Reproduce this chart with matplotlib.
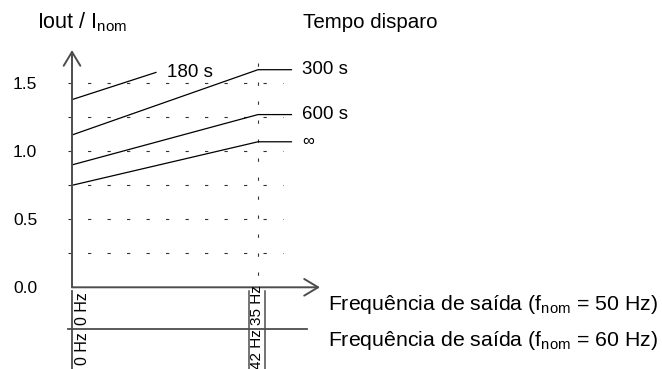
import matplotlib
matplotlib.use("Agg")
import matplotlib.pyplot as plt

plt.rcParams.update({
    "font.family": ["Liberation Sans", "DejaVu Sans"],
    "mathtext.fontset": "custom",
    "mathtext.rm": "Liberation Sans",
    "mathtext.it": "Liberation Sans:italic",
    "lines.scale_dashes": False,
})

# curves: trip time vs output frequency (x in Hz for f_nom = 50 Hz)
curve_labels = ["180 s", "300 s", "600 s", "\u221e"]
curve_x = [[0, 15.8], [0, 35, 41.3], [0, 35, 41.3], [0, 35, 41.3]]
curve_y = [[1.38, 1.58], [1.12, 1.60, 1.60], [0.90, 1.27, 1.27], [0.75, 1.07, 1.07]]

y_ticks = [0.0, 0.5, 1.0, 1.5]
y_ticklabels = ["0.0", "0.5", "1.0", "1.5"]
grid_levels = [0.25, 0.5, 0.75, 1.0, 1.25, 1.5]

freq_ticks_50 = [0, 35]
freq_labels_50 = ["0 Hz", "35 Hz"]
freq_ticks_60 = [0, 42]
freq_labels_60 = ["0 Hz", "42 Hz"]
f_nom_50, f_nom_60 = 50, 60

AX = "#4d4d4d"
W, H = 662, 369
fig = plt.figure(figsize=(W / 100, H / 100), dpi=100)

# pixel layout of the plotting area
px_hz = 186 / 35.0     # pixels per Hz
px_unit = 136.0        # pixels per Iout/Inom unit
x0, y0 = 72, 287.3     # origin in pixels (from top-left)
ax = fig.add_axes([x0 / W, (H - y0) / H, (320 - x0) / W, (y0 - 50) / H])
ax.set_xlim(0, (320 - x0) / px_hz)
ax.set_ylim(0, (y0 - 50) / px_unit)
for s in ax.spines.values():
    s.set_visible(False)
ax.set_xticks([])
ax.set_yticks(y_ticks)
ax.set_yticklabels(y_ticklabels, fontsize=12.5)
ax.tick_params(axis="y", length=0, pad=25)

def hz(p):
    return (p - x0) / px_hz

def yv(p):
    return (y0 - p) / px_unit

# axes with open arrow heads
arrow = dict(arrowstyle="->,head_length=1.0,head_width=0.6", lw=1.4,
             color=AX, shrinkA=0, shrinkB=0, mutation_scale=10)
ax.annotate("", xy=(0, ax.get_ylim()[1]), xytext=(0, 0), arrowprops=arrow,
            annotation_clip=False)
ax.annotate("", xy=(ax.get_xlim()[1], 0), xytext=(0, 0), arrowprops=arrow,
            annotation_clip=False)

# dashed grid
grid_ls = (0, (3.3 * 0.72, 16.2 * 0.72))
for g in grid_levels:
    ax.plot([hz(68), hz(283)], [g, g], color="#333333", lw=0.8,
            linestyle=grid_ls, clip_on=False)
ax.plot([freq_ticks_50[1]] * 2, [yv(63), 0], color="#333333", lw=0.8,
        linestyle=(0, (3.3 * 0.72, 15.7 * 0.72)), clip_on=False)

# curves and labels
for lab, xs, ys in zip(curve_labels, curve_x, curve_y):
    ax.plot(xs, ys, color="black", lw=0.9, clip_on=False)
    ax.annotate(lab, xy=(xs[-1], ys[-1]), xytext=(11, 0),
                textcoords="offset pixels", va="center", ha="left",
                fontsize=13.5 if lab != "\u221e" else 12,
                annotation_clip=False)

# second frequency scale (f_nom = 60 Hz)
ax.plot([hz(68), hz(307)], [yv(329), yv(329)], color=AX, lw=1.3, clip_on=False)
ax.plot([0, 0], [yv(291), yv(369)], color=AX, lw=1.3, clip_on=False)
for f in freq_ticks_50[1:]:
    for dx in (-1.6, 1.4):
        ax.plot([f + dx] * 2, [yv(291), yv(369)], color=AX, lw=1.1, clip_on=False)

for f, lab in zip(freq_ticks_50, freq_labels_50):
    xt = f + (1.9 if f == 0 else -0.15)
    ax.text(xt, yv(292 if f == 0 else 285), lab, rotation=90, ha="center",
            va="top", fontsize=11.5 if f == 0 else 11, clip_on=False)
for f, lab in zip(freq_ticks_60, freq_labels_60):
    xs = f * f_nom_50 / f_nom_60
    xt = xs + (1.9 if f == 0 else -0.15)
    ax.text(xt, yv(332 if f == 0 else 329), lab, rotation=90, ha="center",
            va="top", fontsize=11.5 if f == 0 else 11, clip_on=False)

# titles / axis labels
fig.text(37 / W, 1 - 22 / H, r"Iout / I$_{\rm nom}$", fontsize=15.5,
         ha="left", va="center")
fig.text(303 / W, 1 - 22 / H, "Tempo disparo", fontsize=14.8,
         ha="left", va="center")
fig.text(328 / W, 1 - 305 / H, r"Frequência de saída (f$_{\rm nom}$ = 50 Hz)",
         fontsize=15.3, ha="left", va="center")
fig.text(328 / W, 1 - 340 / H, r"Frequência de saída (f$_{\rm nom}$ = 60 Hz)",
         fontsize=15.3, ha="left", va="center")

fig.savefig("out.png", dpi=100)
